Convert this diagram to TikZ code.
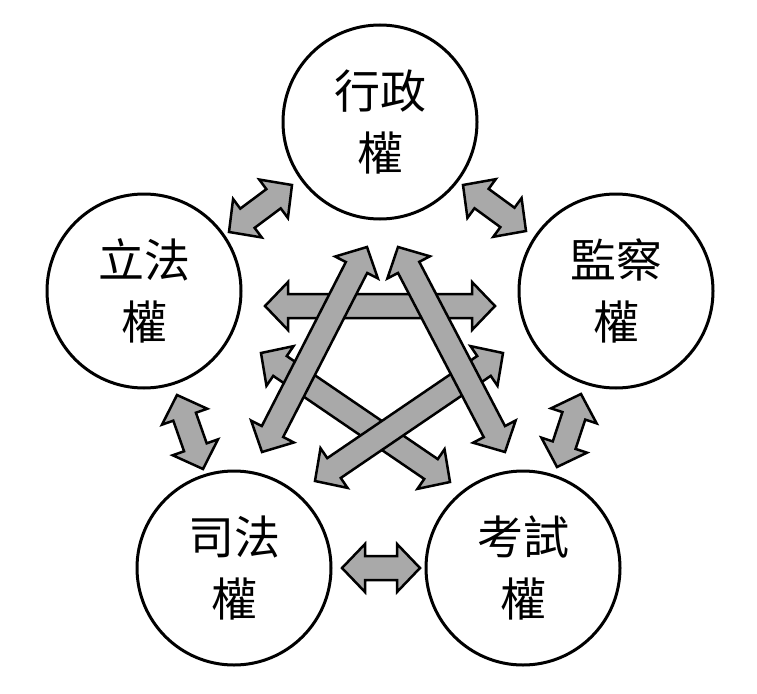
\documentclass[tikz,border=0pt]{standalone}
\usepackage{fontspec}
\newfontfamily\cjk{Noto Sans CJK TC}
\usetikzlibrary{calc}
\definecolor{arrgray}{RGB}{169,169,169}
\tikzset{
  power/.style={circle, draw, line width=3pt, minimum size=194pt, inner sep=0pt, align=center,
    font=\cjk\fontsize{46}{62}\selectfont},
  blockarrow/.style={draw, fill=arrgray, line width=2.5pt, line join=miter}
}
\newcommand{\blockarr}[2]{%
  \draw[blockarrow] (#1)
    -- ($(#1)!23pt!(#2)!24pt!90:(#2)$)
    -- ($(#1)!23pt!(#2)!12pt!90:(#2)$)
    -- ($(#2)!23pt!(#1)!12pt!-90:(#1)$)
    -- ($(#2)!23pt!(#1)!24pt!-90:(#1)$)
    -- (#2)
    -- ($(#2)!23pt!(#1)!24pt!90:(#1)$)
    -- ($(#2)!23pt!(#1)!12pt!90:(#1)$)
    -- ($(#1)!23pt!(#2)!12pt!-90:(#2)$)
    -- ($(#1)!23pt!(#2)!24pt!-90:(#2)$)
    -- cycle;}
\begin{document}
\begin{tikzpicture}[x=1pt,y=-1pt]
\useasboundingbox (0,0) rectangle (757,693);
% circles
\node[power] (xz) at (380,122) {行政\\權};
\node[power] (lf) at (144,291) {立法\\權};
\node[power] (jc) at (616,291) {監察\\權};
\node[power] (sf) at (234,568) {司法\\權};
\node[power] (ks) at (523,568) {考試\\權};
% outer arrow ends
\coordinate (o1a) at (292,185); \coordinate (o1b) at (229,232);
\coordinate (o2a) at (463,185); \coordinate (o2b) at (526,231);
\coordinate (o3a) at (177,395); \coordinate (o3b) at (203,469);
\coordinate (o4a) at (581,394); \coordinate (o4b) at (557,467);
\coordinate (o5a) at (342,568); \coordinate (o5b) at (420,568);
% inner arrow ends
\coordinate (hA) at (265,306); \coordinate (hB) at (495,306);
\coordinate (c1a) at (261,353); \coordinate (c1b) at (450,482);
\coordinate (c2a) at (503,353); \coordinate (c2b) at (315,481);
\coordinate (d1a) at (367,247); \coordinate (d1b) at (262,452);
\coordinate (d2a) at (398,247); \coordinate (d2b) at (505,452);
% outer arrows
\blockarr{o1a}{o1b}
\blockarr{o2a}{o2b}
\blockarr{o3a}{o3b}
\blockarr{o4a}{o4b}
\blockarr{o5a}{o5b}
% inner arrows
\blockarr{hA}{hB}
\blockarr{c1a}{c1b}
\blockarr{c2a}{c2b}
\blockarr{d1a}{d1b}
\blockarr{d2a}{d2b}
\end{tikzpicture}
\end{document}
